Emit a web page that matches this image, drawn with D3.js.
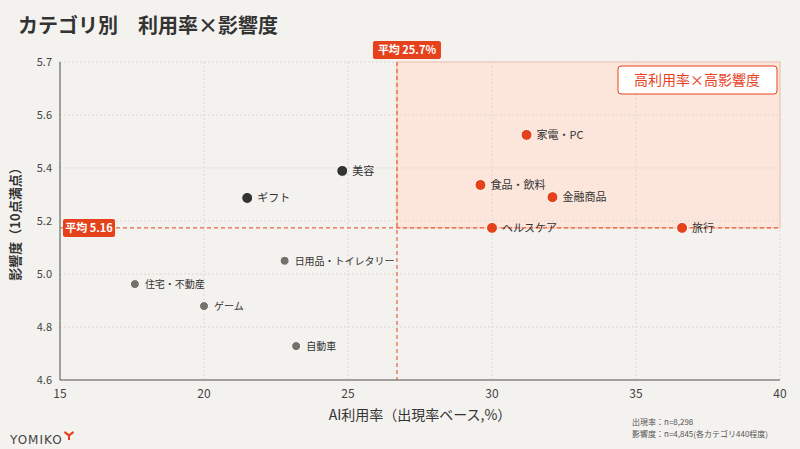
<!DOCTYPE html><html><head><meta charset="utf-8"><script src="https://cdn.jsdelivr.net/npm/d3@7"></script>
<style>body{margin:0;background:#f3f2ee;font-family:"Noto Sans CJK JP","Noto Sans",sans-serif}</style></head><body><svg id="c" width="800" height="449"></svg>
<script>
const names=["家電・PC","食品・飲料","金融商品","ヘルスケア","旅行","美容","ギフト","日用品・トイレタリー","住宅・不動産","ゲーム","自動車"];
const usage=[31.2,29.6,32.1,30.0,36.6,24.8,21.5,22.8,17.6,20.0,23.2];
const impact=[5.525,5.336,5.29,5.174,5.174,5.389,5.287,5.05,4.962,4.879,4.728];
const groups=["hi","hi","hi","hi","hi","dark","dark","grey","grey","grey","grey"];
const xTicks=[15,20,25,30,35,40];
const yTicks=[4.6,4.8,5.0,5.2,5.4,5.6];
const avgX=26.7, avgXLabel="平均 25.7%", avgY=5.174, avgYLabel="平均 5.16";
const RED="#e5421c";
const col={hi:RED,dark:"#333",grey:"#76706a"};
const svg=d3.select("#c");
const x=d3.scaleLinear().domain([15,40]).range([60,780]);
const y=d3.scaleLinear().domain([4.6,5.8]).range([380,62]);
svg.append("text").attr("x",18).attr("y",33).attr("font-size",20).attr("font-weight",700).attr("fill","#333").text("カテゴリ別　利用率×影響度");
svg.append("rect").attr("x",x(avgX)).attr("y",62).attr("width",780-x(avgX)).attr("height",y(avgY)-62).attr("fill","#fce6dc").attr("stroke","#f5b9a3");
const g=svg.append("g");
g.selectAll(".gx").data(xTicks).join("line").attr("x1",d=>x(d)).attr("x2",d=>x(d)).attr("y1",62).attr("y2",380).attr("stroke","#dcd9d3").attr("stroke-dasharray","2,2");
g.selectAll(".gy").data(yTicks.concat([5.8])).join("line").attr("y1",d=>y(d)).attr("y2",d=>y(d)).attr("x1",60).attr("x2",780).attr("stroke","#dcd9d3").attr("stroke-dasharray","2,2");
svg.append("line").attr("x1",60).attr("x2",780).attr("y1",380).attr("y2",380).attr("stroke","#555");
svg.append("line").attr("x1",60).attr("x2",60).attr("y1",62).attr("y2",380).attr("stroke","#555");
svg.selectAll(".xt").data(xTicks).join("text").attr("x",d=>x(d)).attr("y",398).attr("text-anchor","middle").attr("font-size",12).attr("fill","#444").text(d=>d);
svg.selectAll(".yt").data(yTicks).join("text").attr("x",52).attr("y",d=>y(d)+4).attr("text-anchor","end").attr("font-size",11).attr("fill","#444").text(d=>d.toFixed(1));
svg.append("text").attr("x",52).attr("y",y(5.8)+4).attr("text-anchor","end").attr("font-size",11).attr("fill","#444").text("5.7");
svg.append("text").attr("x",420).attr("y",420).attr("text-anchor","middle").attr("font-size",14).attr("fill","#333").text("AI利用率（出現率ベース,%）");
svg.append("text").attr("transform","translate(20,221) rotate(-90)").attr("text-anchor","middle").attr("font-size",13).attr("fill","#333").attr("font-weight",700).text("影響度（10点満点）");
svg.append("line").attr("x1",x(avgX)).attr("x2",x(avgX)).attr("y1",62).attr("y2",380).attr("stroke",RED).attr("stroke-dasharray","4,3");
svg.append("line").attr("x1",60).attr("x2",780).attr("y1",y(avgY)).attr("y2",y(avgY)).attr("stroke",RED).attr("stroke-dasharray","4,3");
svg.append("rect").attr("x",x(avgX)-24).attr("y",41).attr("width",68).attr("height",18).attr("rx",2).attr("fill",RED);
svg.append("text").attr("x",x(avgX)+10).attr("y",54).attr("text-anchor","middle").attr("font-size",11).attr("font-weight",700).attr("fill","#fff").text(avgXLabel);
svg.append("rect").attr("x",63).attr("y",y(avgY)-9).attr("width",52).attr("height",18).attr("rx",2).attr("fill",RED);
svg.append("text").attr("x",89).attr("y",y(avgY)+4).attr("text-anchor","middle").attr("font-size",11).attr("font-weight",700).attr("fill","#fff").text(avgYLabel);
svg.append("rect").attr("x",618).attr("y",66).attr("width",159).attr("height",28).attr("rx",3).attr("fill","#fff").attr("stroke",RED);
svg.append("text").attr("x",697).attr("y",85).attr("text-anchor","middle").attr("font-size",14).attr("fill",RED).text("高利用率×高影響度");
const pts=names.map((n,i)=>({n,u:usage[i],v:impact[i],g:groups[i]}));
svg.selectAll(".p").data(pts).join("circle").attr("cx",d=>x(d.u)).attr("cy",d=>y(d.v)).attr("r",d=>d.g=="grey"?4.5:5.5).attr("fill",d=>col[d.g]).attr("stroke","#fff").attr("stroke-width",1);
svg.selectAll(".l").data(pts).join("text").attr("x",d=>x(d.u)+10).attr("y",d=>y(d.v)+4).attr("font-size",d=>d.g=="grey"?10:11).attr("fill","#333").text(d=>d.n);
svg.append("text").attr("x",632).attr("y",425).attr("font-size",8).attr("fill","#555").text("出現率：n=8,298");
svg.append("text").attr("x",632).attr("y",437).attr("font-size",8).attr("fill","#555").text("影響度：n=4,845(各カテゴリ440程度)");
svg.append("text").attr("x",10).attr("y",444).attr("font-size",12).attr("letter-spacing",1).attr("fill","#444").attr("font-family","DejaVu Sans").text("YOMIKO");
svg.append("path").attr("d","M65,431 L69,434 L73,431 L74,433 L70,436 L70,440 L68,440 L68,436 L64,433Z").attr("fill",RED);
</script></body></html>
